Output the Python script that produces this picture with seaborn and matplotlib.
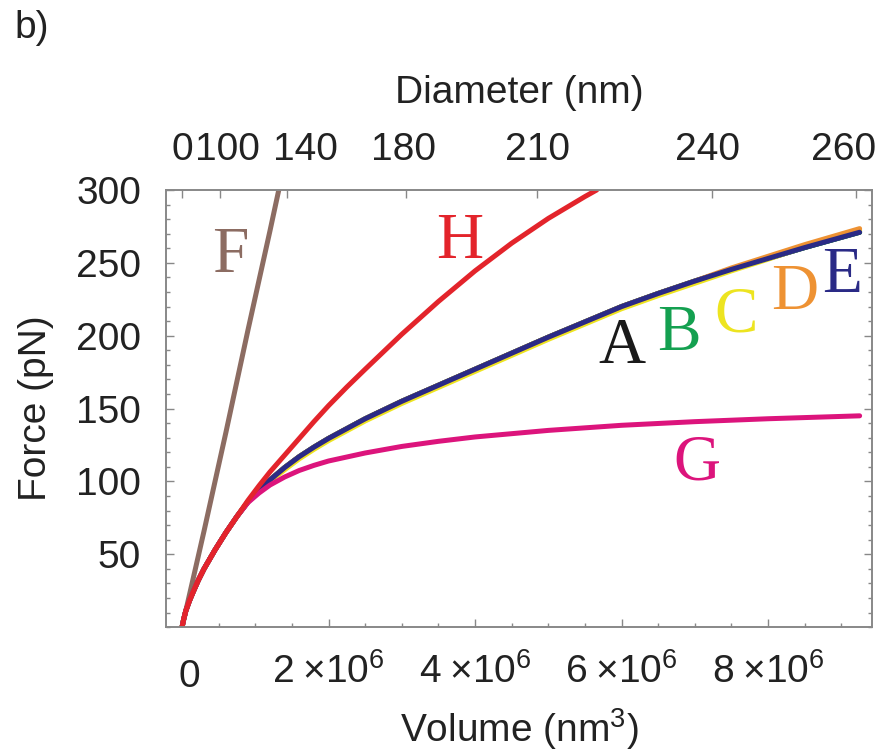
import numpy as np
import pandas as pd
import matplotlib
matplotlib.use("Agg")
import matplotlib.pyplot as plt
import matplotlib.transforms as mtransforms
import seaborn as sns

# ---------------- data (volume in 1e6 nm^3, force in pN) ----------------
vol_F = [0, 0.3, 0.6, 0.9, 1.2, 1.32]
force_F = [0, 66, 134, 204, 272, 300]

vol_H = [0, 0.02, 0.05, 0.1, 0.15, 0.22, 0.3, 0.45, 0.6, 0.75, 0.9, 1.05, 1.2, 1.4, 1.6,
         1.8, 2.0, 2.25, 2.5, 3.0, 3.5, 4.0, 4.5, 5.0, 5.5, 5.66]
force_H = [0, 5, 11, 18, 24, 32, 40, 53, 65, 76, 87, 97, 106.5, 118, 129.5,
           141, 152, 164.8, 177, 201, 223.5, 244.5, 263.5, 280.5, 295.5, 300]

vol_ABCDE = [0, 0.02, 0.05, 0.1, 0.15, 0.22, 0.3, 0.45, 0.6, 0.75, 0.9, 1.05, 1.2, 1.4, 1.6,
             1.8, 2.0, 2.5, 3.0, 3.5, 4.0, 4.5, 5.0, 5.5, 6.0, 6.5, 7.0, 7.5, 8.0, 8.5, 9.25]
force_A = [0, 5, 11, 18, 24, 32, 40, 53, 65, 76, 86, 94, 101, 109.5, 117,
           123.5, 129.5, 143, 155, 166, 177, 188, 199, 209.5, 220, 229, 237.5, 245.5, 253, 260.5, 271]
force_B = [0, 5, 11, 18, 24, 32, 40, 53, 65, 76, 86, 94, 101, 109.5, 117,
           123.5, 129.5, 143, 155, 166, 177, 188, 199, 209.5, 220, 229, 237.5, 245.5, 253, 260.5, 271]
force_C = [0, 5, 11, 18, 24, 32, 40, 53, 65, 76, 86, 93.5, 100, 108, 115.5,
           122, 128, 141.5, 153.5, 164.5, 175.5, 186.5, 197.5, 208, 218.5, 227.5, 236, 244.5, 252.5, 261, 272.5]
force_D = [0, 5, 11, 18, 24, 32, 40, 53, 65, 76, 86, 94, 101, 109.5, 117,
           123.5, 129.5, 143, 155, 166, 177, 188, 199, 209.5, 220, 229, 237.5, 246.5, 254.5, 262.5, 273.5]
force_E = [0, 5, 11, 18, 24, 32, 40, 53, 65, 76, 86, 94, 101, 109.5, 117,
           123.5, 129.5, 143, 155, 166, 177, 188, 199, 209.5, 220, 229, 237.5, 245.5, 253, 260.5, 271]

vol_G = [0, 0.02, 0.05, 0.1, 0.15, 0.22, 0.3, 0.45, 0.6, 0.75, 0.9, 1.05, 1.2, 1.4, 1.6,
         1.8, 2.0, 2.5, 3.0, 3.5, 4.0, 5.0, 6.0, 7.0, 8.0, 9.25]
force_G = [0, 5, 11, 18, 24, 32, 40, 53, 65, 76, 85.5, 92, 97.5, 103, 107.5,
           111, 114, 119.5, 124, 127.5, 130.5, 135, 138.5, 141, 143, 145]

curve_names = ["F", "H", "A", "B", "C", "D", "E", "G"]
curve_colors = {"F": "#8C6C62", "H": "#E3242B", "A": "#1A1A1A", "B": "#14A050",
                "C": "#EDE420", "D": "#EE9233", "E": "#2A2A86", "G": "#DC147C"}

# label positions (volume 1e6, force) for curve letters
label_x = {"F": 0.66, "H": 3.79, "A": 6.01, "B": 6.78, "C": 7.56, "D": 8.37, "E": 9.01, "G": 7.03}
label_y = {"F": 244, "H": 253, "A": 181, "B": 190, "C": 203, "D": 218, "E": 230, "G": 101}

x_ticks = [0, 2e6, 4e6, 6e6, 8e6]
x_tick_labels = [r"$0$", r"$2\;{\times}10^{6}$", r"$4\;{\times}10^{6}$",
                 r"$6\;{\times}10^{6}$", r"$8\;{\times}10^{6}$"]
y_ticks = [50, 100, 150, 200, 250, 300]
diam_ticks = [0, 100, 140, 180, 210, 240, 260]
diam_label_dx = [0, 7, 18, -2, 0, -5, -13]  # pixel shifts of crowded labels

# ---------------- style ----------------
sns.set_style("white")
plt.rcParams["font.family"] = ["Liberation Sans", "DejaVu Sans"]
plt.rcParams["mathtext.fontset"] = "custom"
plt.rcParams["mathtext.rm"] = "Liberation Sans"
plt.rcParams["mathtext.it"] = "Liberation Sans"
plt.rcParams["mathtext.default"] = "regular"

FS = 28
spine_col = "#888888"

fig = plt.figure(figsize=(8.8, 7.51), dpi=100)
ax = fig.add_axes([0.1886, 0.165, 0.8024, 0.582])

series = {
    "F": (vol_F, force_F), "H": (vol_H, force_H),
    "A": (vol_ABCDE, force_A), "B": (vol_ABCDE, force_B), "C": (vol_ABCDE, force_C),
    "D": (vol_ABCDE, force_D), "E": (vol_ABCDE, force_E), "G": (vol_G, force_G),
}
draw_order = ["F", "A", "B", "C", "D", "E", "G", "H"]
for name in draw_order:
    v, f = series[name]
    df = pd.DataFrame({"volume": np.array(v) * 1e6, "force": f})
    sns.lineplot(data=df, x="volume", y="force", ax=ax, color=curve_colors[name],
                 lw=3.6, sort=False, estimator=None, solid_capstyle="round",
                 solid_joinstyle="round")

for name in curve_names:
    ax.text(label_x[name] * 1e6, label_y[name], name, color=curve_colors[name],
            fontsize=47, family="Liberation Serif", ha="center", va="baseline")

ax.set_xlim(-0.22e6, 9.42e6)
ax.set_ylim(0, 300)
ax.set_xticks(x_ticks)
ax.set_xticklabels(x_tick_labels, fontsize=FS)
ax.set_xticks(np.arange(0, 9.5e6, 0.5e6), minor=True)
ax.set_yticks(y_ticks)
ax.set_yticklabels([str(t) for t in y_ticks], fontsize=FS)
ax.set_yticks(np.arange(0, 301, 10), minor=True)
ax.tick_params(which="both", direction="in", colors=spine_col, labelcolor="#222222",
               left=True, right=True, bottom=True, top=False, width=1)
ax.tick_params(which="major", length=6)
ax.tick_params(which="minor", length=3)
ax.tick_params(axis="x", which="major", pad=19)
ax.tick_params(axis="y", which="major", pad=18)
ax.set_xlabel(r"Volume (nm$^{3}$)", fontsize=FS, labelpad=8, color="#222222")
ax.set_ylabel("Force (pN)", fontsize=FS, labelpad=16, color="#222222")
for s in ax.spines.values():
    s.set_color(spine_col)
    s.set_linewidth(1.2)
ax.set(facecolor="white")

# shift "0" to line up with the baselines of the other labels
xl = ax.get_xticklabels()
xl[0].set_transform(xl[0].get_transform() +
                    mtransforms.ScaledTranslation(7 / 100, -6 / 100, fig.dpi_scale_trans))

# top diameter axis
ax2 = ax.twiny()
ax2.set_xlim(ax.get_xlim())
diam_pos = [np.pi / 6 * d ** 3 for d in diam_ticks]
ax2.set_xticks(diam_pos)
ax2.set_xticklabels([str(d) for d in diam_ticks], fontsize=FS, color="#222222")
ax2.tick_params(which="both", direction="in", colors=spine_col, labelcolor="#222222",
                length=6, pad=16, width=1)
for lab, dx in zip(ax2.get_xticklabels(), diam_label_dx):
    lab.set_transform(lab.get_transform() +
                      mtransforms.ScaledTranslation(dx / 100, 0, fig.dpi_scale_trans))
ax2.set_xlabel("Diameter (nm)", fontsize=FS, labelpad=21, color="#222222")
for s in ax2.spines.values():
    s.set_color(spine_col)
    s.set_linewidth(1.2)

fig.text(0.017, 0.987, "b)", fontsize=FS, ha="left", va="top", color="#222222")

fig.savefig("out.png", dpi=100, facecolor="white")
